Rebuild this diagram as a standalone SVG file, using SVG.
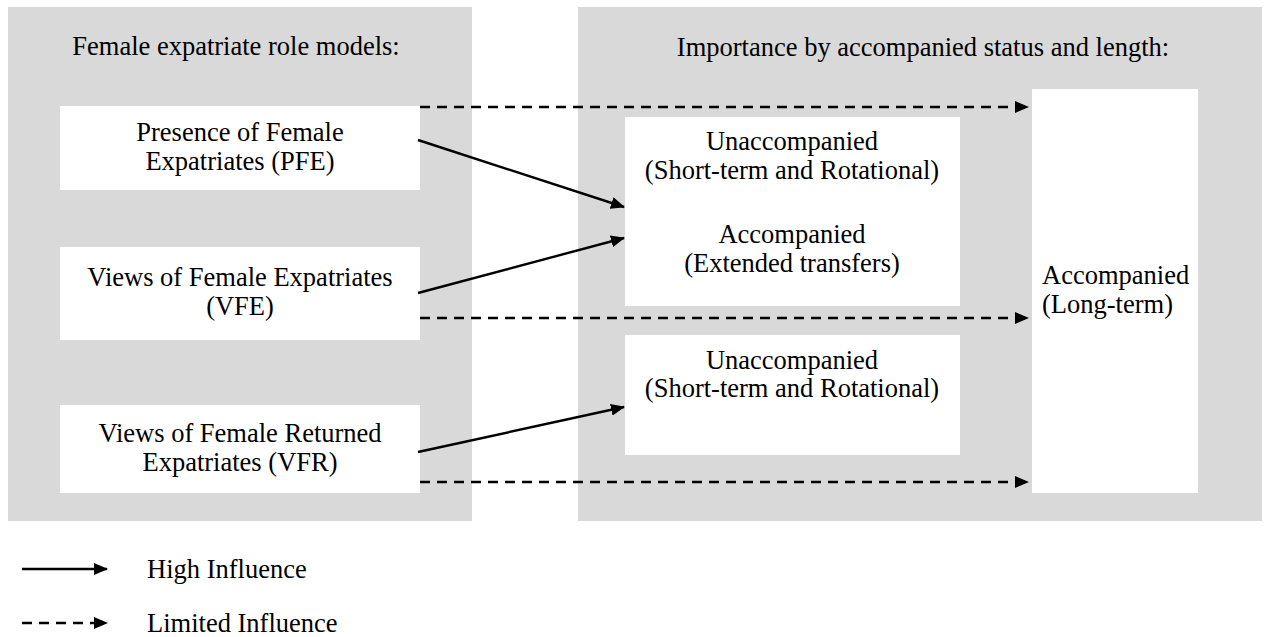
<svg xmlns="http://www.w3.org/2000/svg" width="1269" height="637" viewBox="0 0 1269 637">
<style>
.panel{fill:#d9d9d9}
.box{fill:#ffffff}
.t{font-family:'Liberation Serif','Times New Roman',Times,serif;font-size:26.5px;fill:#000}
.c{text-anchor:middle}
.solid{stroke:#000;stroke-width:2.4;fill:none;marker-end:url(#ah)}
.dash{stroke:#000;stroke-width:2.4;fill:none;stroke-dasharray:10 7;marker-end:url(#ah)}
</style>
<defs>
<marker id="ah" markerWidth="14" markerHeight="12" refX="13" refY="6" orient="auto" markerUnits="userSpaceOnUse" viewBox="0 0 14 12">
<path d="M0,0 L14,6 L0,12 z" fill="#000"/>
</marker>
</defs>
<g id="panel-left">
<rect class="panel" x="8" y="7" width="464" height="514"/>
<text class="t c" x="236" y="55">Female expatriate role models:</text>
</g>
<g id="panel-right">
<rect class="panel" x="578" y="7" width="684" height="514"/>
<text class="t c" x="923" y="56">Importance by accompanied status and length:</text>
</g>
<g id="node-pfe">
<rect class="box" x="60" y="106" width="360" height="84"/>
<text class="t c" x="240" y="141">Presence of Female</text>
<text class="t c" x="240" y="170">Expatriates (PFE)</text>
</g>
<g id="node-vfe">
<rect class="box" x="60" y="247" width="360" height="93"/>
<text class="t c" x="240" y="286">Views of Female Expatriates</text>
<text class="t c" x="240" y="315">(VFE)</text>
</g>
<g id="node-vfr">
<rect class="box" x="60" y="405" width="360" height="88"/>
<text class="t c" x="240" y="442">Views of Female Returned</text>
<text class="t c" x="240" y="471">Expatriates (VFR)</text>
</g>
<g id="node-mid1">
<rect class="box" x="625" y="117" width="335" height="189"/>
<text class="t c" x="792" y="150">Unaccompanied</text>
<text class="t c" x="792" y="178.5">(Short-term and Rotational)</text>
<text class="t c" x="792" y="243">Accompanied</text>
<text class="t c" x="792" y="271.5">(Extended transfers)</text>
</g>
<g id="node-mid2">
<rect class="box" x="625" y="335" width="335" height="120"/>
<text class="t c" x="792" y="368.5">Unaccompanied</text>
<text class="t c" x="792" y="397">(Short-term and Rotational)</text>
</g>
<g id="node-long">
<rect class="box" x="1032" y="89" width="166" height="404"/>
<text class="t" x="1042" y="284">Accompanied</text>
<text class="t" x="1042" y="313">(Long-term)</text>
</g>
<g id="connectors">
<line class="dash" x1="420" y1="107" x2="1028" y2="107"/>
<line class="dash" x1="420" y1="318" x2="1028" y2="318"/>
<line class="dash" x1="420" y1="482" x2="1028" y2="482"/>
<line class="solid" x1="418" y1="140" x2="624" y2="207"/>
<line class="solid" x1="418" y1="293" x2="624" y2="238"/>
<line class="solid" x1="418" y1="452" x2="624" y2="407"/>
</g>
<g id="legend">
<line class="solid" x1="22" y1="569" x2="107" y2="569"/>
<text class="t" x="147" y="578">High Influence</text>
<line class="dash" x1="22" y1="623" x2="107" y2="623"/>
<text class="t" x="147" y="632">Limited Influence</text>
</g>
</svg>
